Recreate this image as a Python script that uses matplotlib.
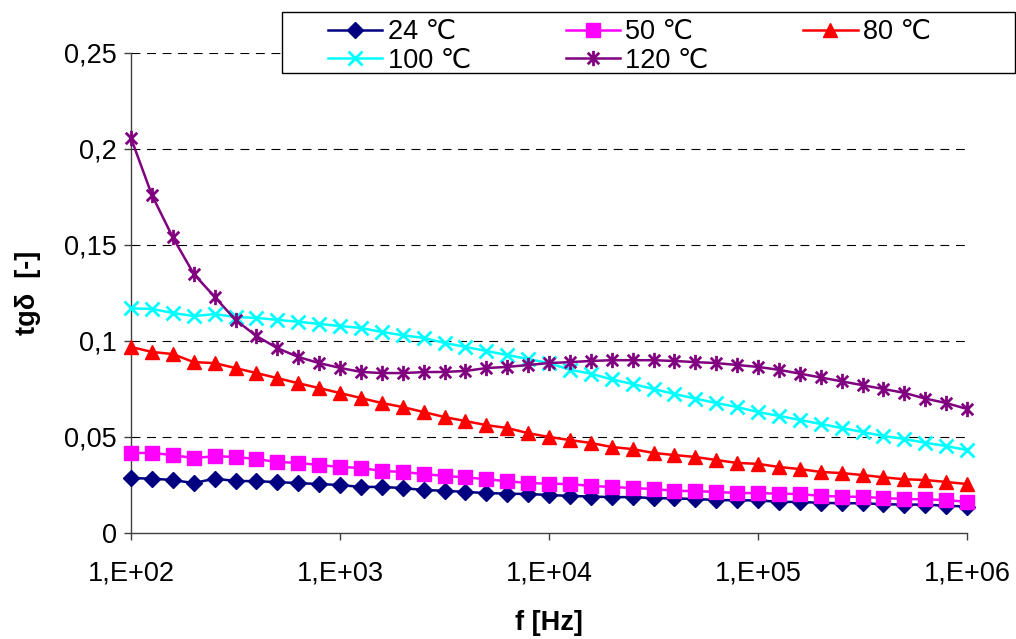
import numpy as np
import matplotlib
matplotlib.use('Agg')
import matplotlib.pyplot as plt
from matplotlib.path import Path
from matplotlib.patches import Rectangle

plt.rcParams['font.family'] = ['Liberation Sans', 'DejaVu Sans']

# frequency: 10 points per decade, 1e2 .. 1e6
exponents = np.arange(41) / 10.0 + 2
freq = 10 ** exponents

t24 = [0.0286, 0.0283, 0.0276, 0.0260, 0.0283, 0.0271, 0.0270, 0.0265, 0.0260, 0.0255,
       0.0250, 0.0240, 0.0240, 0.0234, 0.0224, 0.0220, 0.0214, 0.0208, 0.0205, 0.0203,
       0.0198, 0.0193, 0.0190, 0.0187, 0.0187, 0.0182, 0.0180, 0.0177, 0.0172, 0.0170,
       0.0170, 0.0162, 0.0162, 0.0157, 0.0155, 0.0155, 0.0150, 0.0148, 0.0148, 0.0142,
       0.0138]
t50 = [0.0417, 0.0417, 0.0406, 0.0390, 0.0400, 0.0396, 0.0385, 0.0370, 0.0365, 0.0354,
       0.0344, 0.0339, 0.0323, 0.0318, 0.0307, 0.0297, 0.0290, 0.0280, 0.0270, 0.0260,
       0.0257, 0.0255, 0.0245, 0.0240, 0.0234, 0.0229, 0.0220, 0.0218, 0.0214, 0.0208,
       0.0208, 0.0205, 0.0203, 0.0193, 0.0190, 0.0188, 0.0182, 0.0177, 0.0175, 0.0172,
       0.0162]
t80 = [0.0969, 0.0943, 0.0932, 0.0890, 0.0885, 0.0859, 0.0833, 0.0807, 0.0780, 0.0755,
       0.0729, 0.0703, 0.0677, 0.0656, 0.0630, 0.0604, 0.0583, 0.0562, 0.0547, 0.0520,
       0.0500, 0.0484, 0.0469, 0.0448, 0.0437, 0.0417, 0.0406, 0.0396, 0.0380, 0.0365,
       0.0360, 0.0344, 0.0333, 0.0318, 0.0312, 0.0302, 0.0290, 0.0280, 0.0276, 0.0266,
       0.0255]
t100 = [0.1170, 0.1167, 0.1146, 0.1130, 0.1140, 0.1125, 0.1120, 0.1110, 0.1100, 0.1089,
        0.1078, 0.1068, 0.1047, 0.1030, 0.1016, 0.0990, 0.0969, 0.0948, 0.0927, 0.0906,
        0.0885, 0.0850, 0.0830, 0.0800, 0.0776, 0.0750, 0.0724, 0.0700, 0.0677, 0.0656,
        0.0630, 0.0610, 0.0589, 0.0568, 0.0547, 0.0526, 0.0505, 0.0490, 0.0470, 0.0453,
        0.0432]
t120 = [0.2057, 0.1760, 0.1540, 0.1350, 0.1230, 0.1110, 0.1026, 0.0963, 0.0917, 0.0885,
        0.0860, 0.0839, 0.0833, 0.0833, 0.0838, 0.0839, 0.0844, 0.0859, 0.0865, 0.0875,
        0.0885, 0.0890, 0.0896, 0.0900, 0.0900, 0.0900, 0.0896, 0.0890, 0.0885, 0.0875,
        0.0865, 0.0850, 0.0830, 0.0810, 0.0790, 0.0770, 0.0750, 0.0730, 0.0700, 0.0677,
        0.0646]

labels = ['24 \u2103', '50 \u2103', '80 \u2103', '100 \u2103', '120 \u2103']
xtick_vals = [1e2, 1e3, 1e4, 1e5, 1e6]
xtick_labels = ['1,E+02', '1,E+03', '1,E+04', '1,E+05', '1,E+06']
ytick_vals = [0, 0.05, 0.1, 0.15, 0.2, 0.25]
ytick_labels = ['0', '0,05', '0,1', '0,15', '0,2', '0,25']

FS = 19.5

# excel style asterisk: x plus vertical bar
asterisk = Path([(0, -1), (0, 1), (-0.75, -0.75), (0.75, 0.75), (-0.75, 0.75), (0.75, -0.75)],
                [Path.MOVETO, Path.LINETO, Path.MOVETO, Path.LINETO, Path.MOVETO, Path.LINETO])

W, H = 1016, 639
fig = plt.figure(figsize=(W / 100, H / 100), dpi=100)
ax = fig.add_axes([131 / W, 1 - 533 / H, (967 - 131) / W, (533 - 53) / H])

styles = [
    (t24, '#000080', 'D', 8, 1.0),
    (t50, '#FF00FF', 's', 9.5, 1.0),
    (t80, '#FF0000', '^', 10, 1.0),
    (t100, '#00FFFF', 'x', 10, 2.0),
    (t120, '#800080', asterisk, 11, 2.0),
]
handles = []
for (vals, col, mk, ms, mew), lab in zip(styles, labels):
    h, = ax.plot(freq, vals, color=col, lw=1.8, marker=mk, ms=ms, mew=mew,
                 mfc=col, mec=col, label=lab, clip_on=False, zorder=3)
    handles.append(h)

ax.set_xscale('log')
ax.set_xlim(1e2, 1e6)
ax.set_ylim(0, 0.25)
ax.set_xticks(xtick_vals)
ax.set_xticklabels(xtick_labels)
ax.xaxis.set_minor_locator(matplotlib.ticker.NullLocator())
ax.set_yticks(ytick_vals)
ax.set_yticklabels(ytick_labels)
ax.tick_params(axis='both', labelsize=FS, direction='out', length=5, width=1, color='#404040')
ax.tick_params(axis='x', pad=15)
ax.tick_params(axis='y', pad=5)

for y in ytick_vals[1:]:
    ax.axhline(y, color='black', lw=0.8, ls=(0, (8, 6)), zorder=1)

for s in ['top', 'right']:
    ax.spines[s].set_visible(False)
for s in ['left', 'bottom']:
    ax.spines[s].set_color('#404040')
    ax.spines[s].set_linewidth(1)

ax.set_xlabel('f [Hz]', fontsize=FS, fontweight='bold', labelpad=17)
ax.set_ylabel('tg\u03b4  [-]', fontsize=FS, fontweight='bold', labelpad=17)

# legend is filled column by column -> reorder so rows read 24/50/80, 100/120
order = [0, 3, 1, 4, 2]
leg = fig.legend([handles[i] for i in order], [labels[i] for i in order],
                 loc='upper left', bbox_to_anchor=(328 / W, 1 - 19 / H), ncol=3,
                 frameon=False, fontsize=FS, handlelength=2.0, handletextpad=0.2,
                 columnspacing=3.5, labelspacing=0.1, borderpad=0, borderaxespad=0)
fig.patches.append(Rectangle((282 / W, 1 - 73 / H), (1015 - 282) / W, 61 / H,
                             transform=fig.transFigure, fill=True, fc='white',
                             ec='black', lw=1, zorder=0))

fig.savefig('out.png', dpi=100)
